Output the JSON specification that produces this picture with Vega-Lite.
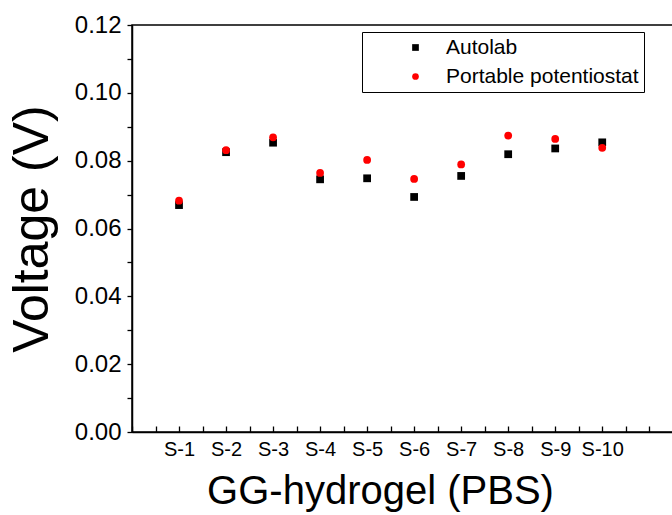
{
  "$schema": "https://vega.github.io/schema/vega-lite/v6.json",
  "autosize": "none",
  "padding": {"left": 132, "top": 25, "right": 0, "bottom": 83},
  "width": 545,
  "height": 407,
  "background": "white",
  "config": {
    "font": "Liberation Sans",
    "view": {"stroke": "black", "strokeWidth": 1.5},
    "axis": {"grid": false, "domainColor": "black", "domainWidth": 1.5, "tickColor": "black", "tickWidth": 1.3, "labelColor": "black", "titleColor": "black", "titleFontWeight": "normal", "labelFont": "Liberation Sans", "titleFont": "Liberation Sans"}
  },
  "data": {
    "values": [
      {"sample": 1, "instrument": "Autolab", "voltage": 0.0669},
      {"sample": 2, "instrument": "Autolab", "voltage": 0.0825},
      {"sample": 3, "instrument": "Autolab", "voltage": 0.0853},
      {"sample": 4, "instrument": "Autolab", "voltage": 0.0745},
      {"sample": 5, "instrument": "Autolab", "voltage": 0.0748},
      {"sample": 6, "instrument": "Autolab", "voltage": 0.0693},
      {"sample": 7, "instrument": "Autolab", "voltage": 0.0755},
      {"sample": 8, "instrument": "Autolab", "voltage": 0.0819},
      {"sample": 9, "instrument": "Autolab", "voltage": 0.0836},
      {"sample": 10, "instrument": "Autolab", "voltage": 0.0854},
      {"sample": 1, "instrument": "Portable potentiostat", "voltage": 0.0682},
      {"sample": 2, "instrument": "Portable potentiostat", "voltage": 0.0831},
      {"sample": 3, "instrument": "Portable potentiostat", "voltage": 0.0869},
      {"sample": 4, "instrument": "Portable potentiostat", "voltage": 0.0764},
      {"sample": 5, "instrument": "Portable potentiostat", "voltage": 0.0802},
      {"sample": 6, "instrument": "Portable potentiostat", "voltage": 0.0746},
      {"sample": 7, "instrument": "Portable potentiostat", "voltage": 0.0789},
      {"sample": 8, "instrument": "Portable potentiostat", "voltage": 0.0874},
      {"sample": 9, "instrument": "Portable potentiostat", "voltage": 0.0864},
      {"sample": 10, "instrument": "Portable potentiostat", "voltage": 0.0838}
    ]
  },
  "mark": {"type": "point", "filled": true, "opacity": 1, "size": 60},
  "encoding": {
    "x": {
      "field": "sample",
      "type": "quantitative",
      "scale": {"domain": [0, 11.59], "nice": false, "zero": false},
      "axis": {
        "title": "GG-hydrogel (PBS)",
        "titleFontSize": 40,
        "titlePadding": 12,
        "titleX": 248,
        "titleAlign": "center",
        "titleAnchor": null,
        "values": [0, 0.5, 1, 1.5, 2, 2.5, 3, 3.5, 4, 4.5, 5, 5.5, 6, 6.5, 7, 7.5, 8, 8.5, 9, 9.5, 10, 10.5, 11, 11.5],
        "labelExpr": "(datum.value >= 1 && datum.value <= 10 && datum.value % 1 == 0) ? 'S-' + datum.value : ''",
        "labelOverlap": false,
        "labelFontSize": 20,
        "labelPadding": 13,
        "tickSize": -6
      }
    },
    "y": {
      "field": "voltage",
      "type": "quantitative",
      "scale": {"domain": [0, 0.12], "nice": false},
      "axis": {
        "title": "Voltage (V)",
        "titleFontSize": 50,
        "titlePadding": 17,
        "values": [0, 0.01, 0.02, 0.03, 0.04, 0.05, 0.06, 0.07, 0.08, 0.09, 0.1, 0.11, 0.12],
        "labelExpr": "(round(datum.value * 100) % 2 == 0) ? format(datum.value, '.2f') : ''",
        "labelOverlap": false,
        "labelFontSize": 24,
        "labelPadding": 6,
        "tickSize": 5
      }
    },
    "color": {
      "field": "instrument",
      "type": "nominal",
      "scale": {"domain": ["Autolab", "Portable potentiostat"], "range": ["black", "red"]},
      "legend": {
        "title": null,
        "orient": "none",
        "legendX": 230,
        "legendY": 7,
        "strokeColor": "black",
        "fillColor": "white",
        "padding": 5,
        "symbolOffset": 38,
        "symbolSize": 45,
        "labelFontSize": 21,
        "labelOffset": 20,
        "rowPadding": 7,
        "labelColor": "black",
        "labelLimit": 400
      }
    },
    "shape": {
      "field": "instrument",
      "type": "nominal",
      "scale": {"domain": ["Autolab", "Portable potentiostat"], "range": ["square", "circle"]}
    }
  }
}
